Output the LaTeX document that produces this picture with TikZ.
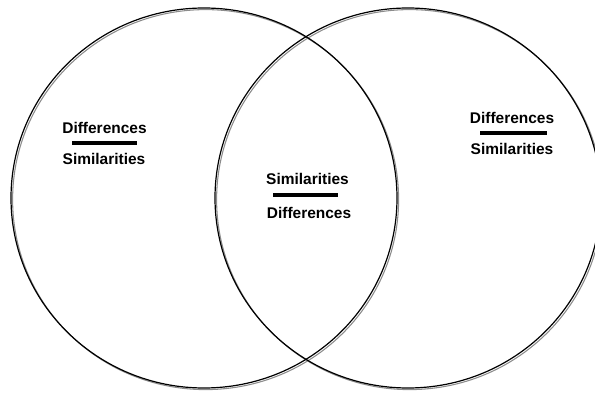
\documentclass[tikz,border=0pt]{standalone}
\usepackage{fontspec}
\setmainfont{Liberation Sans}
\begin{document}
\begin{tikzpicture}[x=0.75pt,y=0.75pt,yscale=-1,xscale=1]
        \tikzset{
          ring/.style={line width=0.9},
          ringshade/.style={color={rgb, 255:red, 140; green, 140; blue, 140 }, line width=0.8},
          word/.style={inner sep=0.75pt, font=\fontsize{11.6}{13}\selectfont\bfseries},
          bar/.style={line width=2.8}
        }
        \useasboundingbox (0,0) rectangle (595,392);
        \clip (0,0) rectangle (595,392);
        
        %Shape: Ellipse [id:left shade]
        \draw [ringshade] (205.6,199.6) ellipse [x radius=193, y radius=190];
        %Shape: Ellipse [id:right shade]
        \draw [ringshade] (409.6,199.6) ellipse [x radius=193, y radius=190];
        %Shape: Ellipse [id:left]
        \draw [ring] (204,198) ellipse [x radius=193, y radius=190];
        %Shape: Ellipse [id:right]
        \draw [ring] (408,198) ellipse [x radius=193, y radius=190];
        
        % Text Node
        \node [word] (ldiff) at (104.5,128) {Differences};
        % Text Node
        \node [word] (lsim) at (104,159) {Similarities};
        % Text Node
        \node [word] (msim) at (307.5,179) {Similarities};
        % Text Node
        \node [word] (mdiff) at (309,213) {Differences};
        % Text Node
        \node [word] (rdiff) at (512,118) {Differences};
        % Text Node
        \node [word] (rsim) at (512,149) {Similarities};
        
        %Straight Lines
        \draw [bar] (72,143) -- (137,143);
        \draw [bar] (273,195) -- (338,195);
        \draw [bar] (480,133) -- (547,133);
        
        \end{tikzpicture}
\end{document}
